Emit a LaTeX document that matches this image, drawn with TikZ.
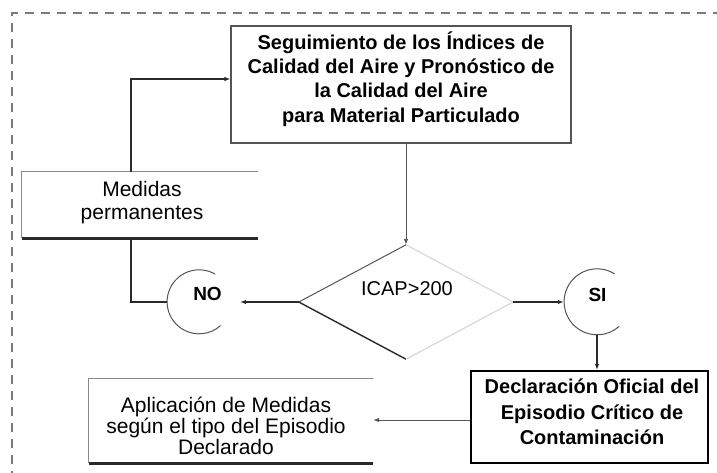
\documentclass[tikz,border=0pt]{standalone}
\usepackage{fontspec}
\setmainfont{Liberation Sans}
\usetikzlibrary{shapes.geometric,arrows.meta}
\definecolor{lin}{HTML}{2A2A2A}
\definecolor{boxgray}{HTML}{555555}
\definecolor{lightedge}{HTML}{8A8A8A}
\definecolor{faint}{HTML}{D8D8D8}
\definecolor{dashc}{HTML}{7A7A7A}
\begin{document}
\begin{tikzpicture}[x=1pt,y=-1pt,
  every node/.style={inner sep=0pt, align=center, text=black},
  arr/.style={-{Latex[length=6pt,width=4.5pt]}},
  conn/.style={draw=lin, line width=1.4pt},
  thinconn/.style={draw=boxgray, line width=0.9pt},
  boldtxt/.style={font=\fontsize{20}{24.3}\selectfont\bfseries},
  decltxt/.style={font=\fontsize{20}{25.5}\selectfont\bfseries},
  medtxt/.style={font=\fontsize{21}{23}\selectfont},
  apltxt/.style={font=\fontsize{21}{20.7}\selectfont},
  plaintxt/.style={font=\fontsize{20}{24}\selectfont},
  yesno/.style={font=\fontsize{19}{22}\selectfont\bfseries},
  topedge/.style={draw=lightedge, line width=1pt},
  shadowedge/.style={draw=lin, line width=2.6pt},
]
\useasboundingbox (0,0) rectangle (717,472);
\fill[white] (0,0) rectangle (717,472);
% dashed frame
\draw[dashc, line width=1.3pt, dash pattern=on 9pt off 7pt] (12,480) -- (12,13) -- (725,13);

% boxes (shapes)
\node[draw=boxgray, line width=1.1pt, minimum width=340pt, minimum height=117pt] (seg) at (401,84.5) {};
\node[minimum width=236pt, minimum height=66pt] (med) at (140,205) {};
\node[minimum width=284pt, minimum height=84pt] (apl) at (231,421) {};
\node[draw=black, line width=2pt, minimum width=237pt, minimum height=92pt] (decl) at (589.5,417) {};
\node[diamond, minimum width=214pt, minimum height=114pt] (dec) at (406,302) {};
\node[circle, minimum size=64pt] (no) at (199,302) {};
\node[circle, minimum size=66pt] (si) at (597,302) {};

% texts
\node[boldtxt] (segtxt) at (401,79) {Seguimiento de los Índices de\\Calidad del Aire y Pronóstico de\\la Calidad del Aire\\para Material Particulado};
\node[medtxt] (medt) at (142,202.5) {Medidas\\permanentes};
\node[apltxt] (aplt) at (226,426) {Aplicación de Medidas\\según el tipo del Episodio\\Declarado};
\node[decltxt] (declt) at (592,412) {Declaración Oficial del\\Episodio Crítico de\\Contaminación};
\node[plaintxt] (icap) at (407,289) {ICAP>200};
\node[yesno] (notxt) at (207.5,294) {NO};
\node[yesno] (sitxt) at (597.5,295) {SI};

% partial borders of open boxes
\draw[topedge] (med.north east) -- (med.north west) -- (med.south west);
\draw[shadowedge] (med.south west) -- (med.south east);
\draw[topedge] (apl.north east) -- (apl.north west) -- (apl.south west);
\draw[shadowedge] (apl.south west) -- (apl.south east);

% diamond: dark left edges, faint right edges
\draw[draw=boxgray, line width=1pt] (dec.north) -- (dec.west);
\draw[draw=lin, line width=1.4pt] (dec.west) -- (dec.south);
\draw[draw=faint, line width=1.2pt] (dec.north) -- (dec.east) -- (dec.south);

% partial circles
\draw[draw=boxgray, line width=1pt] (no.60) arc[start angle=60, end angle=312, radius=32pt];
\draw[draw=boxgray, line width=1pt] (si.58) arc[start angle=58, end angle=312, radius=33pt];

% connectors
\coordinate (j1) at (131,79);
\coordinate (noin) at (240,302);
\coordinate (j2) at (471,420);
\draw[conn,arr] (med.north -| j1) -- (j1) -- (j1 -| seg.west);
\draw[conn] (med.south -| j1) |- (no.west);
\draw[thinconn,arr] (dec.north |- seg.south) -- (dec.north);
\draw[conn,arr] (dec.west) -- (noin);
\draw[conn,arr] (dec.east) -- (si.west);
\draw[conn,arr] (si.south) -- (si.south |- decl.north);
\draw[thinconn,arr] (decl.west |- j2) -- (apl.east |- j2);
\end{tikzpicture}
\end{document}
